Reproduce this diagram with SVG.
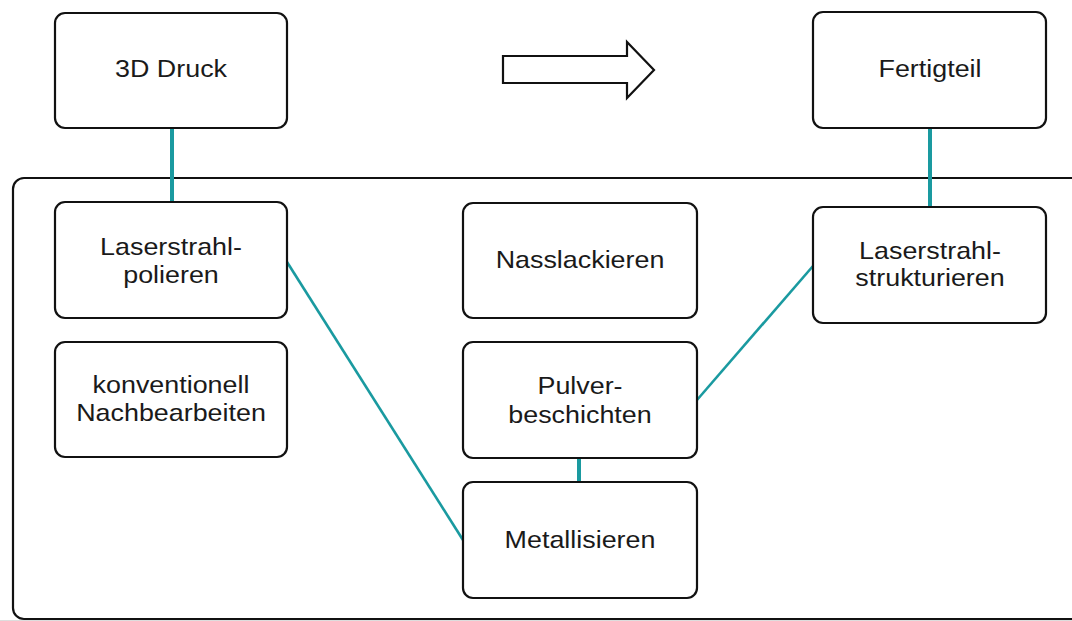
<svg xmlns="http://www.w3.org/2000/svg" width="1072" height="621" viewBox="0 0 1072 621">
  <style>
    .box { fill: #ffffff; stroke: #111111; stroke-width: 2.2; }
    .lbl { font-family: "Liberation Sans", Arial, sans-serif; font-size: 24px; fill: #1a1a1a; text-anchor: middle; }
    .link { stroke: #1a9aa0; fill: none; }
    .thick { stroke-width: 4; }
    .thin { stroke-width: 2.6; }
  </style>
  <rect x="0" y="0" width="1072" height="621" fill="#ffffff"/>
  <line x1="0" y1="620.5" x2="1072" y2="620.5" stroke="#dddddd" stroke-width="1"/>

  <!-- process frame -->
  <g id="frame">
    <rect x="13" y="178" width="1085" height="441" rx="11" fill="none" stroke="#111111" stroke-width="2.2"/>
  </g>

  <!-- flow arrow -->
  <g id="flow-arrow">
    <polygon points="503,56 627,56 627,42 654,70 627,98 627,83 503,83" fill="#ffffff" stroke="#111111" stroke-width="2.2" stroke-linejoin="miter"/>
  </g>

  <!-- connectors -->
  <g id="connectors">
    <line class="link thick" x1="172" y1="128" x2="172" y2="203"/>
    <line class="link thick" x1="930" y1="128" x2="930" y2="207"/>
    <line class="link thick" x1="579" y1="458" x2="579" y2="482"/>
    <line class="link thin" x1="287" y1="262" x2="463" y2="540"/>
    <line class="link thin" x1="697" y1="400" x2="813" y2="266"/>
  </g>

  <g id="druck">
    <rect class="box" x="55" y="13" width="232" height="115" rx="10"/>
    <text class="lbl" transform="translate(171,77) scale(1.12,1)">3D Druck</text>
  </g>

  <g id="fertigteil">
    <rect class="box" x="813" y="12" width="233" height="116" rx="10"/>
    <text class="lbl" transform="translate(930,77) scale(1.12,1)">Fertigteil</text>
  </g>

  <g id="laserpolieren">
    <rect class="box" x="55" y="202" width="232" height="116" rx="10"/>
    <text class="lbl" transform="translate(171,255) scale(1.12,1)">Laserstrahl-</text>
    <text class="lbl" transform="translate(171,283) scale(1.12,1)">polieren</text>
  </g>

  <g id="konventionell">
    <rect class="box" x="55" y="342" width="232" height="115" rx="10"/>
    <text class="lbl" transform="translate(171,393) scale(1.12,1)">konventionell</text>
    <text class="lbl" transform="translate(171,421) scale(1.12,1)">Nachbearbeiten</text>
  </g>

  <g id="nasslackieren">
    <rect class="box" x="463" y="203" width="234" height="115" rx="10"/>
    <text class="lbl" transform="translate(580,268) scale(1.12,1)">Nasslackieren</text>
  </g>

  <g id="pulverbeschichten">
    <rect class="box" x="463" y="342" width="234" height="116" rx="10"/>
    <text class="lbl" transform="translate(580,394) scale(1.12,1)">Pulver-</text>
    <text class="lbl" transform="translate(580,423) scale(1.12,1)">beschichten</text>
  </g>

  <g id="metallisieren">
    <rect class="box" x="463" y="482" width="234" height="116" rx="10"/>
    <text class="lbl" transform="translate(580,548) scale(1.12,1)">Metallisieren</text>
  </g>

  <g id="laserstrukturieren">
    <rect class="box" x="813" y="207" width="233" height="116" rx="10"/>
    <text class="lbl" transform="translate(930,259) scale(1.12,1)">Laserstrahl-</text>
    <text class="lbl" transform="translate(930,286) scale(1.12,1)">strukturieren</text>
  </g>
</svg>
